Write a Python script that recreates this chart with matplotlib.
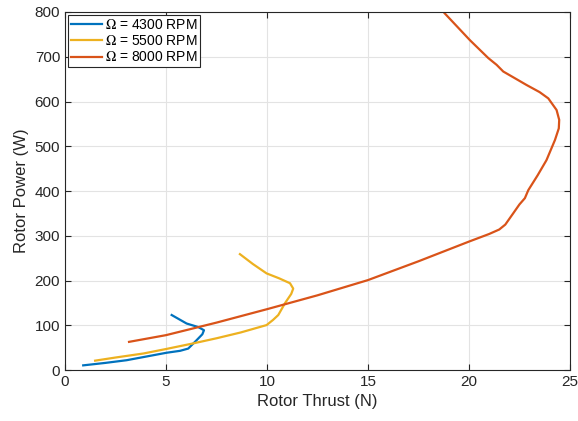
import numpy as np
import matplotlib
matplotlib.use("Agg")
import matplotlib.pyplot as plt

plt.rcParams['font.family'] = ['Liberation Sans', 'DejaVu Sans']
plt.rcParams['mathtext.fontset'] = 'stix'

# curves: thrust (N), power (W)
thrust_4300 = [0.9, 2.0, 3.05, 4.0, 5.03, 5.7, 6.1, 6.5, 6.8, 6.88, 6.6, 6.02, 5.28]
power_4300 = [10.5, 16, 22, 30, 38.7, 43, 48, 66, 80, 89, 96, 104, 123]

thrust_5500 = [1.49, 2.5, 3.88, 5.0, 6.35, 7.5, 8.7, 9.98, 10.3, 10.56, 10.9, 11.2, 11.3, 11.14, 10.6, 9.98, 9.3, 8.66]
power_5500 = [21, 28, 37, 47, 59.6, 71, 84, 100.5, 112, 123, 150, 170, 182, 194, 205, 216, 237, 259]

thrust_8000 = [3.17, 5.0, 7.5, 10.0, 12.5, 15.0, 17.5, 20.0, 21.0, 21.5, 21.8, 22.19, 22.5, 22.77, 22.94,
               23.4, 23.84, 24.26, 24.45, 24.47, 24.34, 23.93, 23.5, 22.85, 22.2, 21.7, 21.37, 20.96, 20.05, 18.8]
power_8000 = [63, 78, 106, 136, 167, 201, 243, 287, 304, 314, 325, 350, 370, 384, 402,
              435, 469, 514, 540, 559, 581, 607, 621, 637, 654, 667, 682, 697, 737, 797]

fig = plt.figure(figsize=(5.78, 4.21), dpi=100)
ax = fig.add_axes([0.1125, 0.121, 0.8735, 0.8505])

ax.plot(thrust_4300, power_4300, color='#0072BD', lw=1.6, label=r'$\Omega$ = 4300 RPM')
ax.plot(thrust_5500, power_5500, color='#EDB120', lw=1.6, label=r'$\Omega$ = 5500 RPM')
ax.plot(thrust_8000, power_8000, color='#D95319', lw=1.6, label=r'$\Omega$ = 8000 RPM')

ax.set_xlim(0, 25)
ax.set_ylim(0, 800)
ax.set_xticks(np.arange(0, 26, 5))
ax.set_yticks(np.arange(0, 801, 100))
ax.grid(True, color='#e3e3e3', lw=0.8)
ax.set_axisbelow(True)
ax.tick_params(direction='in', top=True, right=True, labelsize=11, colors='#262626', length=4)
for s in ax.spines.values():
    s.set_color('#262626')
ax.set_xlabel('Rotor Thrust (N)', fontsize=12, color='#262626')
ax.set_ylabel('Rotor Power (W)', fontsize=12, color='#262626')

leg = ax.legend(loc='upper left', fontsize=10, fancybox=False, framealpha=1,
                edgecolor='#262626', borderpad=0.2, handlelength=2.2, handletextpad=0.2,
                labelspacing=0.15, borderaxespad=0.25)
leg.get_frame().set_linewidth(0.8)

fig.savefig('out.png', dpi=100)
